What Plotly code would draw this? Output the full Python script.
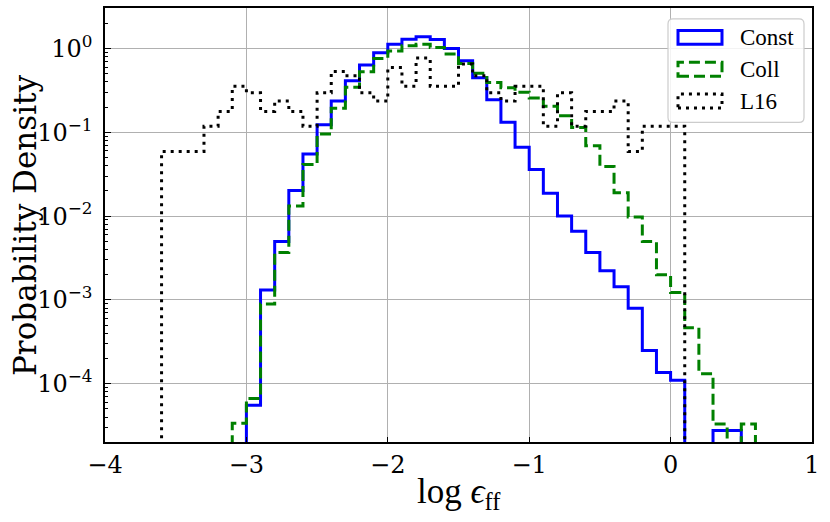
import plotly.graph_objects as go

# ---------------- data ----------------
bin_edges = [-3.6, -3.5, -3.4, -3.3, -3.2, -3.1, -3.0, -2.9, -2.8, -2.7, -2.6,
             -2.5, -2.4, -2.3, -2.2, -2.1, -2.0, -1.9, -1.8, -1.7, -1.6, -1.5,
             -1.4, -1.3, -1.2, -1.1, -1.0, -0.9, -0.8, -0.7, -0.6, -0.5, -0.4,
             -0.3, -0.2, -0.1, 0.0, 0.1, 0.2, 0.3, 0.4, 0.5, 0.6]

const_density = [0, 0, 0, 0, 0, 0,
                 5.55e-5, 0.00131, 0.00497, 0.0202, 0.055, 0.123, 0.237, 0.413,
                 0.635, 0.889, 1.12, 1.29, 1.38, 1.28, 1.0, 0.714, 0.449, 0.244,
                 0.132, 0.0662, 0.036, 0.0187, 0.0100, 0.0066, 0.00368, 0.00223,
                 0.00144, 0.000794, 0.00025, 0.000136, 0.00011,
                 0, 0, 2.77e-5, 2.77e-5, 0]

coll_density = [0, 0, 0, 0, 0,
                3.37e-5, 6.67e-5, 0.000896, 0.00368, 0.0132, 0.0412, 0.0953,
                0.194, 0.344, 0.529, 0.761, 0.93, 1.08, 1.12, 1.03, 0.857, 0.664,
                0.505, 0.392, 0.341, 0.300, 0.257, 0.205, 0.158, 0.114, 0.069,
                0.0392, 0.019, 0.00976, 0.00497, 0.002, 0.00123, 0.000465,
                0.000132, 3.3e-5, 0, 3.3e-5]

l16_counts = [1, 1, 1, 2, 3, 6, 5, 3, 4, 3, 2, 5, 9, 8, 5, 4, 10, 6, 13, 6, 6,
              11, 8, 5, 4, 6, 6, 2, 5, 2, 3, 3, 4, 1, 2, 2, 2, 0, 0, 0, 0, 0]

series_names = ["Const", "Coll", "L16"]
x_ticks = [-4, -3, -2, -1, 0, 1]
x_tick_labels = ["\u22124", "\u22123", "\u22122", "\u22121", "0", "1"]
y_ticks = [1e-4, 1e-3, 1e-2, 1e-1, 1e0]
y_tick_labels = ["10<sup>\u22124</sup>", "10<sup>\u22123</sup>", "10<sup>\u22122</sup>",
                 "10<sup>\u22121</sup>", "10<sup>0</sup>"]

# L16 counts -> probability density
widths = [bin_edges[i + 1] - bin_edges[i] for i in range(len(l16_counts))]
n_l16 = sum(l16_counts)
l16_density = [c / (n_l16 * w) for c, w in zip(l16_counts, widths)]

FLOOR = 1e-12  # empty bins drop below the axis (like matplotlib's log clip)


def step_outline(edges, vals):
    nz = [i for i, v in enumerate(vals) if v > 0]
    i0, i1 = nz[0], nz[-1]
    xs = [edges[i0]]
    ys = [FLOOR]
    for i in range(i0, i1 + 1):
        xs.append(edges[i])
        ys.append(vals[i] if vals[i] > 0 else FLOOR)
    xs.append(edges[i1 + 1])
    ys.append(FLOOR)
    return xs, ys


styles = [
    dict(color="#0000ff", width=3, dash="solid"),
    dict(color="#008000", width=3, dash="11px,5px"),
    dict(color="#000000", width=3, dash="3px,5px"),
]

fig = go.Figure()
for name, vals, st in zip(series_names, [const_density, coll_density, l16_density], styles):
    xs, ys = step_outline(bin_edges, vals)
    fig.add_trace(go.Scatter(x=xs, y=ys, mode="lines", name=name,
                             line=dict(color=st["color"], width=st["width"],
                                       dash=st["dash"], shape="hv"),
                             showlegend=False, hoverinfo="skip"))

# ---------------- layout ----------------
L, R, T, B = 105, 18, 6, 80
W, H = 830, 522
pw, ph = W - L - R, H - T - B


def px_x(px):
    return (px - L) / pw


def px_y(py):
    return (H - B - py) / ph


minor_vals = [m * 10.0 ** k for k in range(-5, 1) for m in range(2, 10)]

fig.update_layout(
    width=W, height=H,
    margin=dict(l=L, r=R, t=T, b=B),
    paper_bgcolor="white", plot_bgcolor="white",
    xaxis=dict(range=[-4, 1], tickmode="array", tickvals=x_ticks, ticktext=x_tick_labels,
               ticks="inside", ticklen=5, tickwidth=1, tickcolor="black",
               showgrid=True, gridcolor="#b0b0b0", gridwidth=1.2,
               showline=True, linecolor="black", linewidth=1.5, mirror=True,
               zeroline=False,
               tickfont=dict(family="DejaVu Serif", size=24, color="black")),
    yaxis=dict(type="log", range=[-4.695, 0.483], tickmode="array",
               tickvals=y_ticks, ticktext=y_tick_labels,
               ticks="inside", ticklen=6, tickwidth=1, tickcolor="black",
               showgrid=True, gridcolor="#b0b0b0", gridwidth=1.2,
               showline=True, linecolor="black", linewidth=1.5, mirror=True,
               zeroline=False, ticklabelstandoff=6,
               minor=dict(tickmode="array", tickvals=minor_vals, ticks="inside",
                          ticklen=3, tickwidth=0.8, tickcolor="black", showgrid=False),
               tickfont=dict(family="DejaVu Serif", size=24, color="black")),
)

annotations = [
    dict(text="Probability Density", xref="paper", yref="paper",
         x=px_x(25), y=0.5, xanchor="center", yanchor="middle", textangle=-90,
         showarrow=False, font=dict(family="DejaVu Serif", size=31, color="black")),
    dict(text="log <i>\u03f5</i><sub>ff</sub>", xref="paper", yref="paper",
         x=0.5, y=px_y(494), xanchor="center", yanchor="middle",
         showarrow=False,
         font=dict(family="Liberation Serif, DejaVu Serif", size=35, color="black")),
]

# legend (matplotlib-like, rectangle patches)
bx0, by0, bx1, by1 = 668, 17, 804, 121
rx, ry = 5 / pw, 5 / ph
X0, X1, Y0, Y1 = px_x(bx0), px_x(bx1), px_y(by1), px_y(by0)
box_path = (f"M{X0 + rx},{Y1} L{X1 - rx},{Y1} Q{X1},{Y1} {X1},{Y1 - ry} "
            f"L{X1},{Y0 + ry} Q{X1},{Y0} {X1 - rx},{Y0} L{X0 + rx},{Y0} "
            f"Q{X0},{Y0} {X0},{Y0 + ry} L{X0},{Y1 - ry} Q{X0},{Y1} {X0 + rx},{Y1} Z")
shapes = [dict(type="path", path=box_path, xref="paper", yref="paper",
               fillcolor="rgba(255,255,255,0.85)", line=dict(color="#cccccc", width=1.2),
               layer="above")]
entry_y = [35.5, 67.5, 99.5]
for name, st, cy in zip(series_names, styles, entry_y):
    shapes.append(dict(type="rect", xref="paper", yref="paper",
                       x0=px_x(678), x1=px_x(722), y0=px_y(cy + 7), y1=px_y(cy - 7),
                       line=dict(color=st["color"], width=st["width"], dash=st["dash"]),
                       fillcolor="rgba(0,0,0,0)", layer="above"))
    annotations.append(dict(text=name, xref="paper", yref="paper",
                            x=px_x(738), y=px_y(cy), xanchor="left", yanchor="middle",
                            showarrow=False,
                            font=dict(family="Liberation Serif", size=23, color="black")))

fig.update_layout(shapes=shapes, annotations=annotations)
fig.write_html("out.html", config={"displayModeBar": False},
               post_script="document.body.style.margin='0';document.body.style.padding='0';")
